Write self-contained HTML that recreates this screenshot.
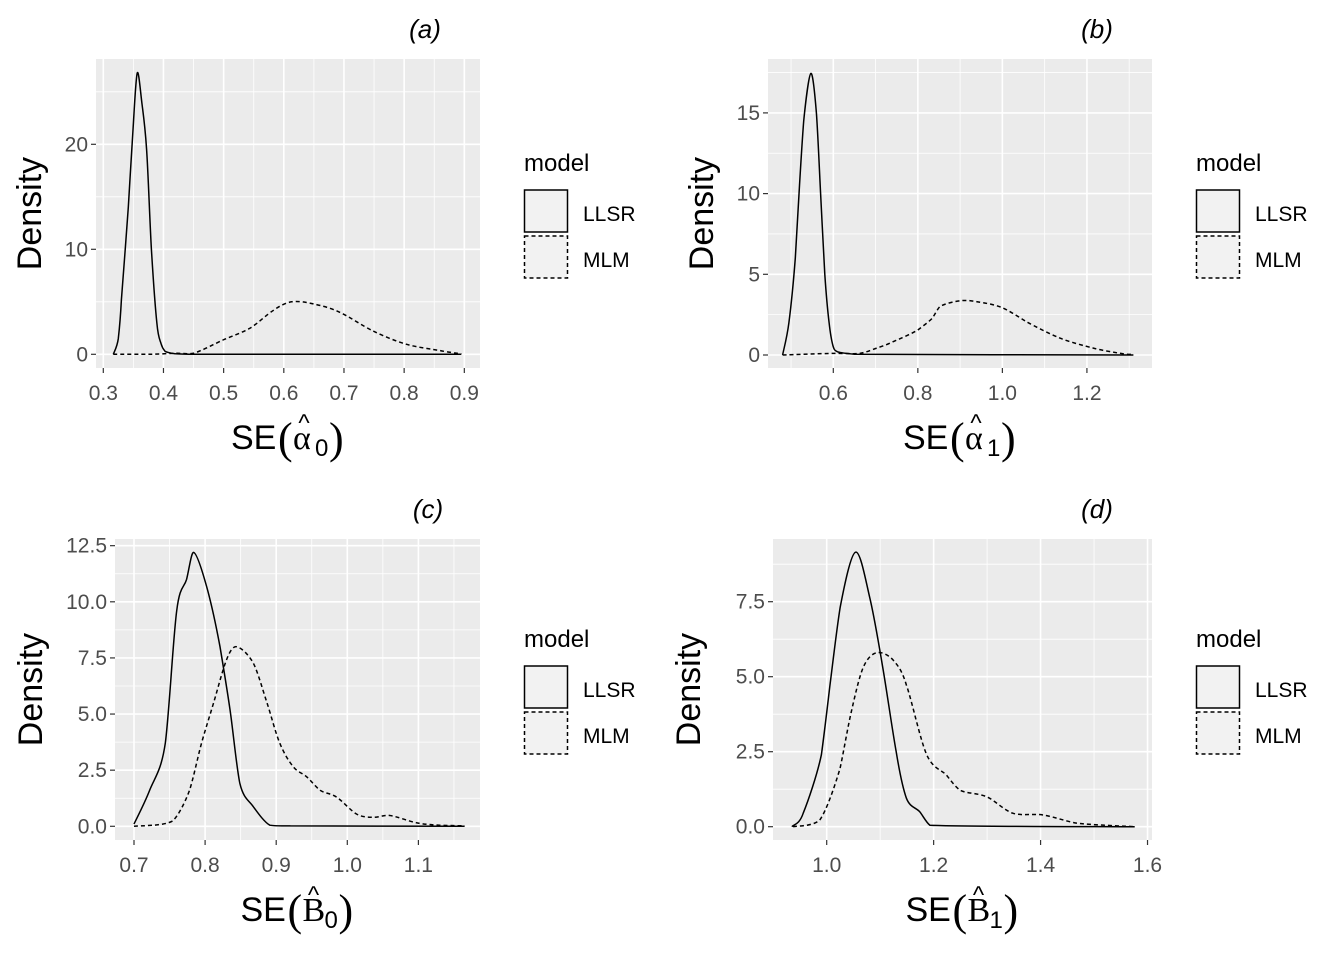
<!DOCTYPE html>
<html><head><meta charset="utf-8"><style>
html,body{margin:0;padding:0;background:#fff;}
svg{display:block;font-family:"Liberation Sans",sans-serif;}
</style></head><body>
<svg id="chart" width="1344" height="960" viewBox="0 0 1344 960"></svg>
<script>
// ---- data (x value, density) ----
const aLLSRx = [0.3166,0.325,0.33,0.3416,0.35,0.3565,0.364,0.372,0.38,0.389,0.396,0.4025,0.42,0.45,0.895];
const aLLSRy = [0,1.5,5.2,14,22,26.8,24,19.5,10,2.95,1.0,0.3,0.05,0,0];
const aMLMx = [0.3166,0.38,0.42,0.45,0.499,0.544,0.583,0.613,0.649,0.693,0.749,0.804,0.86,0.895];
const aMLMy = [0,0,0.1,0.1,1.36,2.5,4.2,5.0,4.8,4.0,2.2,0.95,0.35,0.05];

const bLLSRx = [0.48,0.495,0.51,0.52,0.53,0.547,0.56,0.57,0.58,0.59,0.6,0.61,0.65,1.31];
const bLLSRy = [0,2,6,10.5,14.5,17.45,15,10,5,2,0.5,0.2,0.05,0];
const bMLMx = [0.48,0.6,0.663,0.7,0.741,0.8,0.835,0.852,0.9,0.94,0.998,1.057,1.136,1.215,1.28,1.31];
const bMLMy = [0,0.1,0.1,0.4,0.82,1.55,2.3,3.0,3.36,3.3,2.95,2.06,1.05,0.43,0.1,0.03];

const cLLSRx = [0.7,0.722,0.744,0.76,0.774,0.784,0.802,0.821,0.835,0.849,0.868,0.891,0.92,1.165];
const cLLSRy = [0.1,1.6,3.7,9.6,11,12.2,10.7,8.0,5.2,1.9,0.87,0.05,0.02,0];
const cMLMx = [0.7,0.755,0.778,0.795,0.812,0.83,0.844,0.868,0.887,0.905,0.924,0.943,0.962,0.985,1.013,1.036,1.06,1.098,1.13,1.165];
const cMLMy = [0,0.25,1.6,3.7,5.5,7.4,8.0,7.26,5.5,3.7,2.65,2.2,1.6,1.3,0.55,0.4,0.48,0.15,0.05,0.02];

const dLLSRx = [0.935,0.956,0.99,1.006,1.025,1.054,1.081,1.105,1.13,1.149,1.174,1.193,1.576];
const dLLSRy = [0,0.45,2.4,4.7,7.3,9.15,7.6,5.3,2.5,0.95,0.5,0.05,0];
const dMLMx = [0.937,0.987,1.025,1.046,1.068,1.093,1.124,1.149,1.187,1.224,1.249,1.299,1.348,1.405,1.467,1.576];
const dMLMy = [0,0.22,1.95,3.83,5.3,5.8,5.56,4.72,2.4,1.72,1.22,1.0,0.45,0.39,0.12,0];

const aXTicks = [0.3,0.4,0.5,0.6,0.7,0.8,0.9];
const aXLabels = ["0.3","0.4","0.5","0.6","0.7","0.8","0.9"];
const aYTicks = [0,10,20];
const aYLabels = ["0","10","20"];
const bXTicks = [0.6,0.8,1.0,1.2];
const bXLabels = ["0.6","0.8","1.0","1.2"];
const bYTicks = [0,5,10,15];
const bYLabels = ["0","5","10","15"];
const cXTicks = [0.7,0.8,0.9,1.0,1.1];
const cXLabels = ["0.7","0.8","0.9","1.0","1.1"];
const cYTicks = [0,2.5,5,7.5,10,12.5];
const cYLabels = ["0.0","2.5","5.0","7.5","10.0","12.5"];
const dXTicks = [1.0,1.2,1.4,1.6];
const dXLabels = ["1.0","1.2","1.4","1.6"];
const dYTicks = [0,2.5,5,7.5];
const dYLabels = ["0.0","2.5","5.0","7.5"];

const NS = "http://www.w3.org/2000/svg";
const svg = document.getElementById('chart');
function mk(tag, attrs, parent){
  const e = document.createElementNS(NS, tag);
  for (const k in attrs) e.setAttribute(k, attrs[k]);
  (parent||svg).appendChild(e);
  return e;
}

function panel(o){
  const g = mk('g', {});
  
  
  const sx = v => o.x0px + (v - o.x0v) * o.xk;
  const sy = v => o.y0px - (v - o.y0v) * o.yk;
  const bg = mk('rect', {x:o.L, y:o.T, width:o.R-o.L, height:o.B-o.T, fill:'#ebebeb'}, g);
  
  
  const xs = o.xTicks, ys = o.yTicks;
  const dx = xs[1]-xs[0], dy = ys[1]-ys[0];
  for (let v = xs[0]-dx/2; v <= xs[xs.length-1]+dx; v += dx){
    const p = sx(v); if (p > o.L+1 && p < o.R-1) mk('line',{x1:p,x2:p,y1:o.T,y2:o.B,stroke:'#fff','stroke-width':0.8},g);
  }
  for (let v = ys[0]+dy/2; v <= ys[ys.length-1]+dy; v += dy){
    const p = sy(v); if (p > o.T+1 && p < o.B-1) mk('line',{x1:o.L,x2:o.R,y1:p,y2:p,stroke:'#fff','stroke-width':0.8},g);
  }
  xs.forEach((v,i)=>{
    const p = sx(v);
    mk('line',{x1:p,x2:p,y1:o.T,y2:o.B,stroke:'#fff','stroke-width':1.6},g);
    mk('line',{x1:p,x2:p,y1:o.B,y2:o.B+5,stroke:'#333','stroke-width':1.2},g);
    const t = mk('text',{x:p,y:o.B+32,'text-anchor':'middle','font-size':21,fill:'#4d4d4d'},g);
    t.textContent = o.xLabels[i];
    
    
  });
  ys.forEach((v,i)=>{
    const p = sy(v);
    mk('line',{x1:o.L,x2:o.R,y1:p,y2:p,stroke:'#fff','stroke-width':1.6},g);
    mk('line',{x1:o.L-5,x2:o.L,y1:p,y2:p,stroke:'#333','stroke-width':1.2},g);
    const t = mk('text',{x:o.L-8,y:p+7,'text-anchor':'end','font-size':21,fill:'#4d4d4d'},g);
    t.textContent = o.yLabels[i];
    
    
  });
  function line(xa, ya, dash, name){
    const P = xa.map((v,i)=>[sx(v), sy(ya[i])]);
    let d = 'M' + P[0][0].toFixed(1) + ',' + P[0][1].toFixed(1);
    for (let i = 0; i < P.length-1; i++){
      const p0 = P[Math.max(0,i-1)], p1 = P[i], p2 = P[i+1], p3 = P[Math.min(P.length-1,i+2)];
      const t = 0.16, w = p2[0]-p1[0];
      const c1x = Math.min(p1[0]+w/3, p1[0]+(p2[0]-p0[0])*t);
      const c2x = Math.max(p2[0]-w/3, p2[0]-(p3[0]-p1[0])*t);
      const c1 = [c1x, Math.min(o.y0px, p1[1]+(p2[1]-p0[1])*t)];
      const c2 = [c2x, Math.min(o.y0px, p2[1]-(p3[1]-p1[1])*t)];
      d += 'C' + c1[0].toFixed(1)+','+c1[1].toFixed(1)+' '+c2[0].toFixed(1)+','+c2[1].toFixed(1)+' '+p2[0].toFixed(1)+','+p2[1].toFixed(1);
    }
    const p = mk('path',{d:d,fill:'none',stroke:'#000','stroke-width':1.5,'stroke-dasharray':dash,'stroke-linejoin':'round'},g);
    
    
  }
  line(o.mx, o.my, '4,3', 'mlm-density-line');
  line(o.lx, o.ly, 'none', 'llsr-density-line');
  const tt = mk('text',{x:o.titleX,y:o.T-21,'text-anchor':'middle','font-size':26,'font-style':'italic',fill:'#000'},g);
  tt.textContent = '(' + o.id + ')';
  
  
  const yc = (o.T+o.B)/2;
  const yt = mk('text',{x:0,y:0,transform:'translate('+(o.L-(o.id==='a'||o.id==='b'?55:73))+','+yc+') rotate(-90)','text-anchor':'middle','font-size':34,fill:'#000'},g);
  yt.textContent = 'Density';
  
  
  const xc = (o.L+o.R)/2, by = o.B + 81;
  const xt = mk('g',{},g);
  
  
  const t1 = mk('text',{x:xc-57,y:by,'font-size':34,fill:'#000'},xt); t1.textContent='SE';
  const t2 = mk('text',{x:xc-10,y:by+4,'font-size':44,'font-family':'Liberation Serif, serif',fill:'#000'},xt); t2.textContent='(';
  const t3 = mk('text',{x:xc+5,y:by,'font-size':34,'font-family':'Liberation Serif, serif',fill:'#000'},xt); t3.textContent=o.sym;
  const t3h = mk('text',{x:xc+16,y:by-18,'font-size':24,'text-anchor':'middle','font-family':'Liberation Sans, sans-serif',fill:'#000'},xt); t3h.textContent='^';
  const t4 = mk('text',{x:xc+27,y:by+7,'font-size':24,fill:'#000'},xt); t4.textContent=o.sub;
  const t5 = mk('text',{x:xc+41,y:by+4,'font-size':44,'font-family':'Liberation Serif, serif',fill:'#000'},xt); t5.textContent=')';
  const lg = mk('g',{},g);
  
  
  const lx = o.legX, ly = o.legY;
  const lt = mk('text',{x:lx,y:ly,'font-size':24,fill:'#000'},lg); lt.textContent='model';
  const k1 = mk('rect',{x:lx+0.5,y:ly+19,width:43,height:42,fill:'#f2f2f2',stroke:'#000','stroke-width':1.5},lg);
  
  
  const k2 = mk('rect',{x:lx+0.5,y:ly+65,width:43,height:42,fill:'#f2f2f2',stroke:'#000','stroke-width':1.5,'stroke-dasharray':'4,3'},lg);
  
  
  const l1 = mk('text',{x:lx+59,y:ly+50,'font-size':21,fill:'#000'},lg); l1.textContent='LLSR';
  
  
  const l2 = mk('text',{x:lx+59,y:ly+96,'font-size':21,fill:'#000'},lg); l2.textContent='MLM';
  
  
}

panel({id:'a',L:96,R:480,T:59,B:368,x0v:0.3,x0px:103.3,xk:601.7,y0v:0,y0px:354.3,yk:10.5,
  xTicks:aXTicks,xLabels:aXLabels,yTicks:aYTicks,yLabels:aYLabels,lx:aLLSRx,ly:aLLSRy,mx:aMLMx,my:aMLMy,
  titleX:425,sym:'α',sub:'0',legX:524,legY:171});
panel({id:'b',L:768,R:1152,T:59,B:368,x0v:0.6,x0px:833.3,xk:422.7,y0v:0,y0px:355,yk:16.14,
  xTicks:bXTicks,xLabels:bXLabels,yTicks:bYTicks,yLabels:bYLabels,lx:bLLSRx,ly:bLLSRy,mx:bMLMx,my:bMLMy,
  titleX:1097,sym:'α',sub:'1',legX:1196,legY:171});
panel({id:'c',L:115,R:480,T:539,B:840,x0v:0.7,x0px:134,xk:711,y0v:0,y0px:826.3,yk:22.45,
  xTicks:cXTicks,xLabels:cXLabels,yTicks:cYTicks,yLabels:cYLabels,lx:cLLSRx,ly:cLLSRy,mx:cMLMx,my:cMLMy,
  titleX:428,sym:'B',sub:'0',legX:524,legY:647});
panel({id:'d',L:773,R:1152,T:539,B:840,x0v:1.0,x0px:826.7,xk:534.7,y0v:0,y0px:826.7,yk:30,
  xTicks:dXTicks,xLabels:dXLabels,yTicks:dYTicks,yLabels:dYLabels,lx:dLLSRx,ly:dLLSRy,mx:dMLMx,my:dMLMy,
  titleX:1097,sym:'B',sub:'1',legX:1196,legY:647});
</script>
</body></html>
